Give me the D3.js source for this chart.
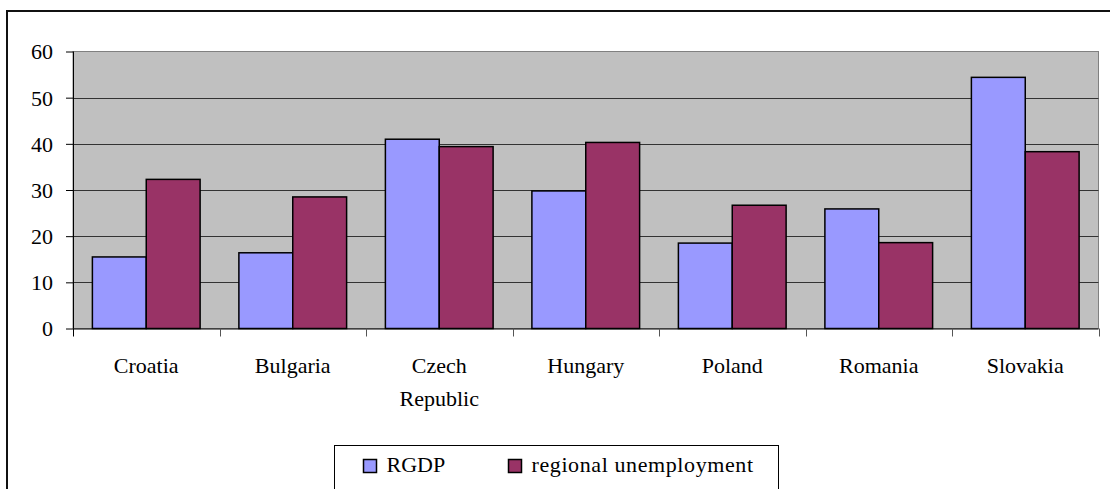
<!DOCTYPE html>
<html>
<head>
<meta charset="utf-8">
<script src="https://cdn.jsdelivr.net/npm/d3@7"></script>
<style>
  body { margin: 0; background: #fff; }
  svg { display: block; }
  svg text { font-family: "Liberation Serif", "Times New Roman", "DejaVu Serif", serif; }
</style>
</head>
<body>
<script>
const countries = ['Croatia', 'Bulgaria', 'Czech Republic', 'Hungary', 'Poland', 'Romania', 'Slovakia']
const rgdp = [15.5, 16.4, 41.0, 29.8, 18.5, 25.9, 54.4]
const unemployment = [32.3, 28.5, 39.4, 40.3, 26.7, 18.6, 38.3]
const seriesNames = ['RGDP', 'regional unemployment']
const yTicks = [0, 10, 20, 30, 40, 50, 60]

const w = 1110
const h = 489
const plot = { left: 73, top: 51.5, right: 1098.5, bottom: 328.5 }
const serif = '"Liberation Serif", "Times New Roman", serif'

const svg = d3.select('body').append('svg')
    .attr('width', w)
    .attr('height', h)

// outer chart frame (runs off the right and bottom edges)
svg.append('line')
    .attr('x1', 7).attr('x2', 7).attr('y1', 10).attr('y2', h)
    .attr('stroke', '#111').attr('stroke-width', 2)
svg.append('line')
    .attr('x1', 6).attr('x2', w).attr('y1', 11).attr('y2', 11)
    .attr('stroke', '#111').attr('stroke-width', 2)

const x0 = d3.scaleBand()
    .domain(countries)
    .range([plot.left, plot.right])

const x1 = d3.scaleBand()
    .domain(seriesNames)
    .range([0, x0.bandwidth()])
    .paddingOuter(0.36)
    .paddingInner(0)

const y = d3.scaleLinear()
    .domain([0, 60])
    .range([plot.bottom, plot.top])

svg.append('rect')
    .attr('x', plot.left).attr('y', plot.top)
    .attr('width', plot.right - plot.left).attr('height', plot.bottom - plot.top)
    .attr('fill', '#c0c0c0')
    .attr('stroke', '#808080')

// gridlines
svg.append('g')
    .selectAll('line')
    .data(yTicks.filter(d => d > 0 && d < 60))
    .join('line')
    .attr('x1', plot.left).attr('x2', plot.right)
    .attr('y1', d => Math.round(y(d)) + 0.5).attr('y2', d => Math.round(y(d)) + 0.5)
    .attr('stroke', '#333').attr('stroke-width', 1)

const table = countries.map((c, i) => ({ country: c, values: [rgdp[i], unemployment[i]] }))
const colors = d3.scaleOrdinal().domain(seriesNames).range(['#9999ff', '#993366'])

svg.append('g')
    .selectAll('g')
    .data(table)
    .join('g')
    .attr('transform', d => `translate(${x0(d.country)},0)`)
    .selectAll('rect')
    .data(d => d.values.map((v, i) => ({ key: seriesNames[i], value: v })))
    .join('rect')
    .attr('x', d => x1(d.key))
    .attr('y', d => y(d.value))
    .attr('width', x1.bandwidth())
    .attr('height', d => y(0) - y(d.value))
    .attr('fill', d => colors(d.key))
    .attr('stroke', '#000')
    .attr('stroke-width', 1.5)

// y axis
const yAxis = svg.append('g')
    .attr('transform', `translate(${plot.left},0)`)
    .call(d3.axisLeft(y).tickValues(yTicks).tickSize(7).tickPadding(13))
yAxis.attr('font-family', serif).attr('font-size', 22)
yAxis.select('.domain').attr('stroke', '#000').attr('d', `M0.5,${plot.top}V${plot.bottom}`)
yAxis.selectAll('.tick line').attr('stroke', '#000')
yAxis.selectAll('.tick text')
    .attr('fill', '#000')
    .attr('dy', '0.34em')

// x axis
const xAxis = svg.append('g')
    .attr('transform', `translate(0,${plot.bottom})`)
xAxis.append('line')
    .attr('x1', plot.left).attr('x2', plot.right)
    .attr('y1', 0.5).attr('y2', 0.5)
    .attr('stroke', '#000')
xAxis.selectAll('.sep')
    .data(countries.concat(['end']))
    .join('line')
    .attr('class', 'sep')
    .attr('x1', (d, i) => Math.round(plot.left + i * x0.step()) + 0.5)
    .attr('x2', (d, i) => Math.round(plot.left + i * x0.step()) + 0.5)
    .attr('y1', 0).attr('y2', 8)
    .attr('stroke', (d, i) => i === 0 ? '#000' : '#555')

const labels = xAxis.selectAll('text')
    .data(countries)
    .join('text')
    .attr('text-anchor', 'middle')
    .attr('font-size', 22)
    .attr('fill', '#000')
    .attr('x', d => x0(d) + x0.bandwidth() / 2)
    .attr('y', 44)
labels.each(function (d) {
    const words = d.split(' ')
    const t = d3.select(this)
    words.forEach((wd, i) => {
        t.append('tspan')
            .attr('x', t.attr('x'))
            .attr('dy', i === 0 ? 0 : 33)
            .text(wd)
    })
})

// legend
const legend = svg.append('g')
legend.append('rect')
    .attr('x', 334.5).attr('y', 445.5)
    .attr('width', 444).attr('height', 60)
    .attr('fill', '#fff').attr('stroke', '#000')

const legendX = [363.5, 508.5]
seriesNames.forEach((name, i) => {
    legend.append('rect')
        .attr('x', legendX[i]).attr('y', 459.5)
        .attr('width', 13).attr('height', 13)
        .attr('fill', colors(name))
        .attr('stroke', '#000').attr('stroke-width', 1.5)
    legend.append('text')
        .attr('x', legendX[i] + 23).attr('y', 472)
        .attr('font-size', 22)
        .attr('letter-spacing', i === 1 ? 0.6 : 0)
        .attr('fill', '#000')
        .text(name)
})
</script>
</body>
</html>
